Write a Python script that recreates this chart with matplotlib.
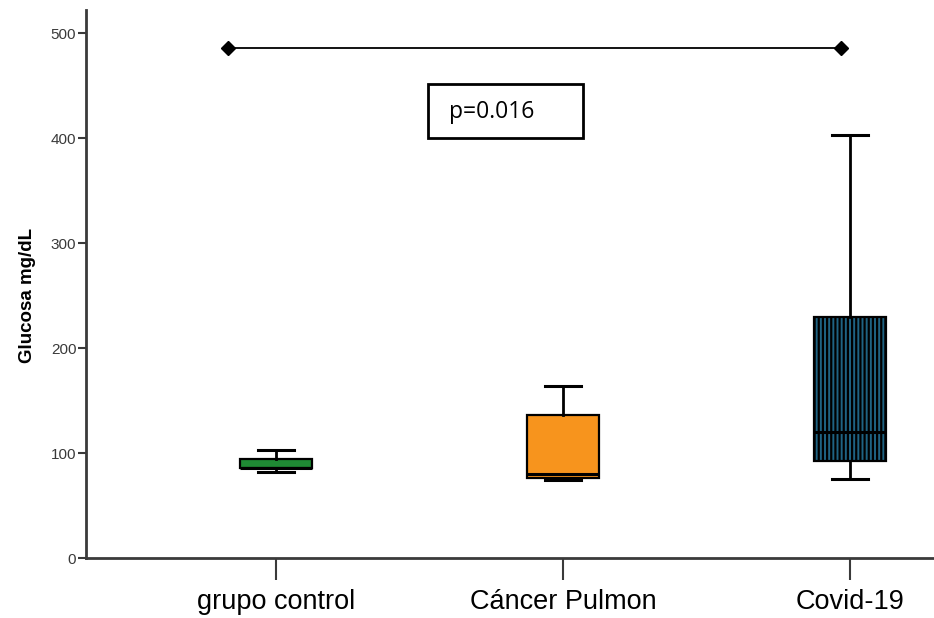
import matplotlib
matplotlib.use("Agg")
import matplotlib.pyplot as plt
from matplotlib.patches import Rectangle

# Glucose distribution per group (mg/dL)
groups = ["grupo control", "Cáncer Pulmon", "Covid-19"]
whisker_low = [82, 74, 75]
q1 = [86, 76, 92]
median = [86, 80, 120]
q3 = [94, 136, 230]
whisker_high = [103, 164, 403]
fills = ["#1f8a34", "#f7941d", "#1f6383"]
hatches = [None, None, "||||"]

y_ticks = [0, 100, 200, 300, 400, 500]
bracket_y = 486
bracket_x = [0.833, 2.97]
p_text = "p=0.016"

plt.rcParams["hatch.linewidth"] = 1.6
plt.rcParams["hatch.color"] = "#133d52"

fig = plt.figure(figsize=(9.34, 6.18), dpi=100)
ax = fig.add_axes([86 / 934, 60 / 618, (934 - 86) / 934, (558 - 10) / 618])

stats = []
for i, g in enumerate(groups):
    stats.append(dict(label=g, whislo=whisker_low[i], q1=q1[i], med=median[i],
                      q3=q3[i], whishi=whisker_high[i], fliers=[]))

positions = list(range(1, len(groups) + 1))
res = ax.bxp(stats, positions=positions, widths=0.25, patch_artist=True,
             showfliers=False,
             boxprops=dict(edgecolor="black", linewidth=1.6),
             medianprops=dict(color="black", linewidth=2.2),
             whiskerprops=dict(color="black", linewidth=2),
             capprops=dict(color="black", linewidth=2.2))
for box, c, h in zip(res["boxes"], fills, hatches):
    box.set_facecolor(c)
    if h:
        box.set_hatch(h)
        box.set_edgecolor("black")

# significance bracket
ax.plot(bracket_x, [bracket_y, bracket_y], color="black", lw=1.3,
        marker="D", markersize=7.5, markerfacecolor="black", zorder=5)

# p-value label in a framed box
ax.add_patch(Rectangle((0.403, 0.766), 0.183, 0.099, transform=ax.transAxes,
                       facecolor="white", edgecolor="black", lw=2, zorder=6))
ax.text(0.428, 0.814, p_text, transform=ax.transAxes, ha="left", va="center",
        fontsize=16.5, family="Open Sans", zorder=7)

ax.set_xlim(0.338, 3.293)
ax.set_ylim(0, 522)
ax.set_yticks(y_ticks)
ax.set_yticklabels([str(v) for v in y_ticks], family="Liberation Sans",
                   fontsize=11, color="#3a3a3a")
ax.set_xticks(positions)
ax.set_xticklabels(groups, family="Liberation Sans", fontsize=19.5, color="black")
ax.tick_params(axis="y", length=6, width=1.5, color="#3a3a3a", pad=1)
ax.tick_params(axis="x", length=16, width=1.5, color="#3a3a3a", pad=6)

for s in ["top", "right"]:
    ax.spines[s].set_visible(False)
for s in ["left", "bottom"]:
    ax.spines[s].set_color("#3a3a3a")
    ax.spines[s].set_linewidth(2)

ax.set_ylabel("Glucosa mg/dL", family="Liberation Sans", fontweight="bold",
              fontsize=13.5)
ax.yaxis.set_label_coords(-0.059, 0.48)

fig.savefig("out.png", dpi=100)
